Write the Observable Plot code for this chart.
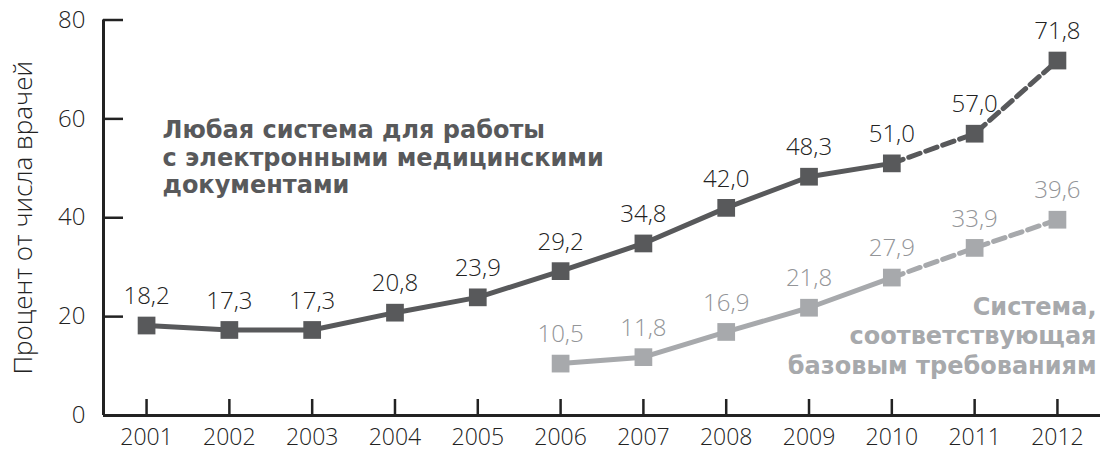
<!DOCTYPE html>
<html>
<head>
<meta charset="utf-8">
<script src="https://cdn.jsdelivr.net/npm/d3@7"></script>
<script src="https://cdn.jsdelivr.net/npm/@observablehq/plot@0.6"></script>
<style>
  html, body { margin: 0; padding: 0; background: #fff; }
  #chart svg { display: block; }
</style>
</head>
<body>
<div id="chart"></div>
<script>
const years = [2001, 2002, 2003, 2004, 2005, 2006, 2007, 2008, 2009, 2010, 2011, 2012];
const anyEHR = [18.2, 17.3, 17.3, 20.8, 23.9, 29.2, 34.8, 42.0, 48.3, 51.0, 57.0, 71.8];
const basicYears = [2006, 2007, 2008, 2009, 2010, 2011, 2012];
const basicEHR = [10.5, 11.8, 16.9, 21.8, 27.9, 33.9, 39.6];
const yTicks = [0, 20, 40, 60, 80];
const yLabel = "Процент от числа врачей";
const anyLabel = "Любая система для работы\nс электронными медицинскими\nдокументами";
const basicLabel = "Система,\nсоответствующая\nбазовым требованиям";
const lastActual = 2010;

const dark = years.map((y, i) => ({year: y, value: anyEHR[i]}));
const light = basicYears.map((y, i) => ({year: y, value: basicEHR[i]}));

const DARK = "#58595b", LIGHT = "#a7a9ac", INK = "#222222";
const xDomain = [2000.48, 2012.52];
const fmt = v => v.toFixed(1).replace(".", ",");
const FONT = "'Open Sans', sans-serif";
const BOLD = "'DejaVu Sans', sans-serif";

const chart = Plot.plot({
  width: 1103,
  height: 453,
  marginLeft: 103,
  marginRight: 3,
  marginTop: 19.5,
  marginBottom: 38,
  style: {fontFamily: FONT, background: "#fff", color: INK},
  x: {domain: xDomain},
  y: {domain: [0, 80]},
  marks: [
    Plot.axisY({ticks: yTicks, tickSize: 0, tickPadding: 18, fontSize: 24, fontWeight: 300, label: null}),
    Plot.text([yLabel], {frameAnchor: "left", text: d => d, dx: -80, rotate: -90, textAnchor: "middle",
      lineAnchor: "middle", fontSize: 26, fontWeight: 300, fill: INK}),
    Plot.axisX({ticks: years, tickSize: 0, tickPadding: 13, fontSize: 23, fontWeight: 300,
      tickFormat: d => String(d), label: null}),
    Plot.ruleX(years, {x: d => d, y1: 0, y2: 0, insetTop: -16, stroke: INK, strokeWidth: 2.5}),
    Plot.ruleY(yTicks, {y: d => d, x1: xDomain[0], x2: xDomain[0], insetRight: -20, stroke: INK, strokeWidth: 2.5}),
    Plot.ruleX([xDomain[0]], {stroke: INK, strokeWidth: 3}),
    Plot.ruleY([0], {stroke: INK, strokeWidth: 3}),
    // lines
    Plot.line(dark.filter(d => d.year <= lastActual), {x: "year", y: "value", stroke: DARK, strokeWidth: 5}),
    Plot.line(dark.filter(d => d.year >= lastActual), {x: "year", y: "value", stroke: DARK, strokeWidth: 5, strokeDasharray: "12,6"}),
    Plot.line(light.filter(d => d.year <= lastActual), {x: "year", y: "value", stroke: LIGHT, strokeWidth: 5}),
    Plot.line(light.filter(d => d.year >= lastActual), {x: "year", y: "value", stroke: LIGHT, strokeWidth: 5, strokeDasharray: "12,6"}),
    Plot.dot(dark, {x: "year", y: "value", symbol: "square", r: 10, fill: DARK, stroke: null}),
    Plot.dot(light, {x: "year", y: "value", symbol: "square", r: 10, fill: LIGHT, stroke: null}),
    Plot.text(dark, {x: "year", y: "value", text: d => fmt(d.value), dy: -29, fontSize: 24, fontWeight: 300, fill: INK}),
    Plot.text(light, {x: "year", y: "value", text: d => fmt(d.value), dy: -29, fontSize: 24, fontWeight: 300, fill: "#939598"}),
    Plot.text([anyLabel], {frameAnchor: "top-left", text: d => d, dx: 59, dy: 137, lineAnchor: "middle",
      textAnchor: "start", fontSize: 24, fontWeight: "bold", fontFamily: BOLD, lineHeight: 1.15, fill: DARK}),
    Plot.text([basicLabel], {frameAnchor: "top-right", text: d => d, dx: -4, dy: 315, lineAnchor: "middle",
      textAnchor: "end", fontSize: 24, fontWeight: "bold", fontFamily: BOLD, lineHeight: 1.22, fill: LIGHT})
  ]
});
document.getElementById("chart").appendChild(chart);
</script>
</body>
</html>
